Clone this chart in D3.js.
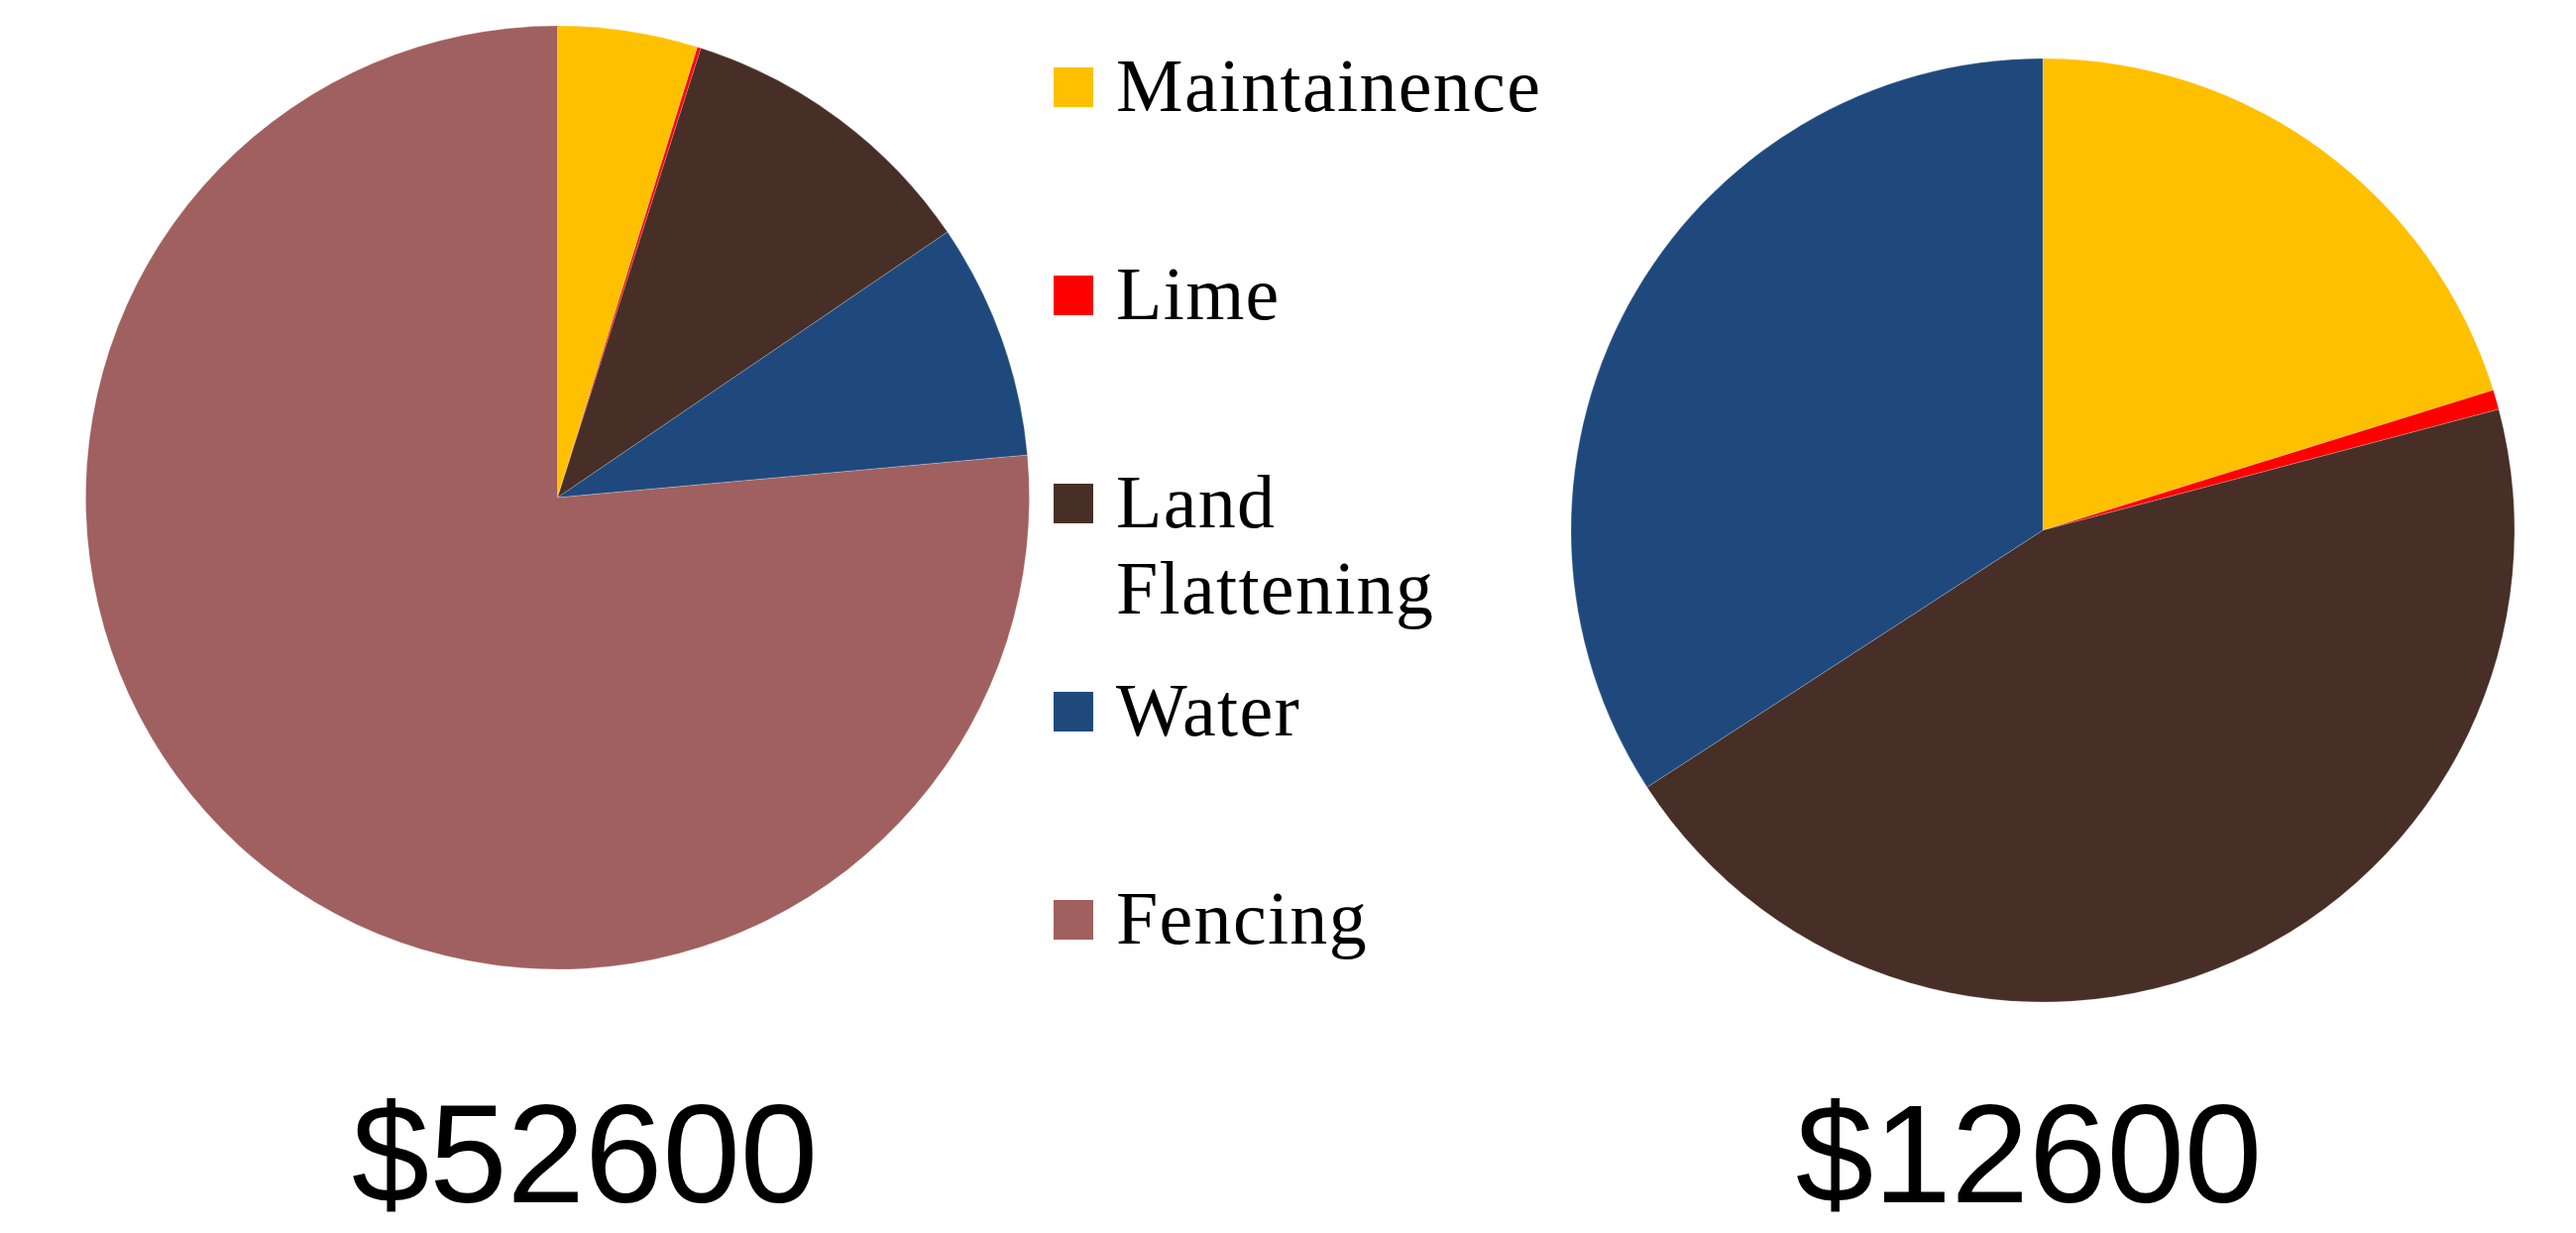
<!DOCTYPE html>
<html>
<head>
<meta charset="utf-8">
<script src="https://cdn.jsdelivr.net/npm/d3@7"></script>
<style>
  html, body { margin: 0; padding: 0; background: #ffffff; }
  svg { display: block; }
</style>
</head>
<body>
<svg id="chart" width="2599" height="1244"></svg>
<script>
// ---- data ----
const categories = ["Maintainence", "Lime", "Land Flattening", "Water", "Fencing"];
const colors = ["#FFC000", "#FF0000", "#472F27", "#1F497D", "#A0605F"];
const leftValues = [2520, 65, 5560, 4250, 40205];
const rightValues = [2545, 85, 5665, 4305, 0];
const totalLabels = ["$52600", "$12600"];

// ---- layout ----
const svg = d3.select("#chart");
const radius = 476;
const pies = [
  { values: leftValues, cx: 562.5, cy: 502, label: totalLabels[0], lx: 590 },
  { values: rightValues, cx: 2061, cy: 535, label: totalLabels[1], lx: 2047 }
];

const color = d3.scaleOrdinal().domain(categories).range(colors);
const pie = d3.pie().sort(null).value(d => d.v).startAngle(0).endAngle(2 * Math.PI);
const arc = d3.arc().innerRadius(0).outerRadius(radius);

pies.forEach(p => {
  const data = categories.map((c, i) => ({ c, v: p.values[i] }));
  const g = svg.append("g").attr("transform", `translate(${p.cx},${p.cy})`);
  g.selectAll("path")
    .data(pie(data).filter(d => d.data.v > 0))
    .join("path")
    .attr("d", arc)
    .attr("fill", d => color(d.data.c))
    .attr("stroke", "#ffffff")
    .attr("stroke-width", 0.6)
    .attr("stroke-opacity", 0.35);

  svg.append("text")
    .attr("x", p.lx)
    .attr("y", 1213)
    .attr("text-anchor", "middle")
    .attr("font-family", "'Liberation Sans', Arial, sans-serif")
    .attr("font-size", 141)
    .attr("fill", "#000")
    .text(p.label);
});

// ---- legend ----
const legendRows = [
  { lines: ["Maintainence"], sq: 68, base: 112 },
  { lines: ["Lime"], sq: 278, base: 322 },
  { lines: ["Land", "Flattening"], sq: 488, base: 532 },
  { lines: ["Water"], sq: 698, base: 742 },
  { lines: ["Fencing"], sq: 908, base: 952 }
];
const legend = svg.append("g");
legendRows.forEach((r, i) => {
  legend.append("rect")
    .attr("x", 1063).attr("y", r.sq)
    .attr("width", 40).attr("height", 40)
    .attr("fill", color(categories[i]));
  const t = legend.append("text")
    .attr("font-family", "'Liberation Serif', 'Times New Roman', serif")
    .attr("font-size", 76)
    .attr("letter-spacing", 1.3)
    .attr("fill", "#000");
  r.lines.forEach((ln, j) => {
    t.append("tspan").attr("x", 1126).attr("y", r.base + j * 87).text(ln);
  });
});
</script>
</body>
</html>
